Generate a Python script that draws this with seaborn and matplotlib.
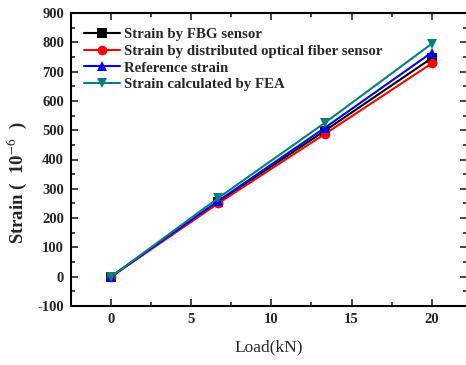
import matplotlib
matplotlib.use("Agg")
import matplotlib.pyplot as plt
from matplotlib.ticker import MultipleLocator
import numpy as np
import pandas as pd
import seaborn as sns

# Load steps (kN)
load = [0, 6.67, 13.33, 20]

# Strain series (micro-strain)
fbg = [0, 255, 498, 746]
distributed = [0, 250, 487, 728]
reference = [0, 258, 508, 765]
fea = [0, 268, 525, 795]

series_names = [
    "Strain by FBG sensor",
    "Strain by distributed optical fiber sensor",
    "Reference strain",
    "Strain calculated by FEA",
]
series_values = [fbg, distributed, reference, fea]
colors = ["#000000", "#FF0000", "#0000FF", "#008080"]
markers = ["s", "o", "^", "v"]

x_ticks = [0, 5, 10, 15, 20]
y_ticks = list(range(-100, 901, 100))

rows = []
for name, vals in zip(series_names, series_values):
    for x, y in zip(load, vals):
        rows.append({"Load": x, "Strain": y, "Series": name})
df = pd.DataFrame(rows)

sns.set_theme(style="white")
plt.rcParams["font.family"] = ["Liberation Serif", "DejaVu Serif"]
plt.rcParams["mathtext.fontset"] = "stix"
plt.rcParams["axes.unicode_minus"] = False

fig = plt.figure(figsize=(4.66, 3.65), dpi=100)
ax = fig.add_axes([71 / 466, 1 - 306 / 365, 396 / 466, 293 / 365])

sns.lineplot(
    data=df, x="Load", y="Strain", hue="Series", style="Series",
    hue_order=series_names, style_order=series_names,
    palette=dict(zip(series_names, colors)),
    markers=dict(zip(series_names, markers)),
    dashes=False, linewidth=1.5, markersize=7, markeredgewidth=0,
    ax=ax,
)

ax.set_xlim(-2.5, 22.2)
ax.set_ylim(-100, 900)
ax.set_xticks(x_ticks)
ax.set_yticks(y_ticks)
ax.xaxis.set_minor_locator(MultipleLocator(2.5))
ax.yaxis.set_minor_locator(MultipleLocator(50))
ax.tick_params(which="both", direction="in", top=True, right=True,
               bottom=True, left=True, width=1.2, labelsize=10.5)
ax.tick_params(which="major", length=5, pad=5)
ax.tick_params(which="minor", length=3)
for lab in ax.get_xticklabels() + ax.get_yticklabels():
    lab.set_fontweight("bold")
for sp in ax.spines.values():
    sp.set_linewidth(1.5)
    sp.set_color("black")

ax.set_xlabel("Load(kN)", fontsize=12.5, labelpad=10)
ax.set_ylabel("Strain (  10$^{-6}$  )", fontsize=13.5, fontweight="bold")
ax.yaxis.set_label_coords(-0.105, 0.42)

leg = ax.legend(loc="upper left", bbox_to_anchor=(0.0, 0.995), frameon=False,
                fontsize=10.7, handlelength=2.4, handletextpad=0.3,
                labelspacing=0.22, borderaxespad=0.5)
for t in leg.get_texts():
    t.set_fontweight("bold")

fig.savefig("out.png", dpi=100)
